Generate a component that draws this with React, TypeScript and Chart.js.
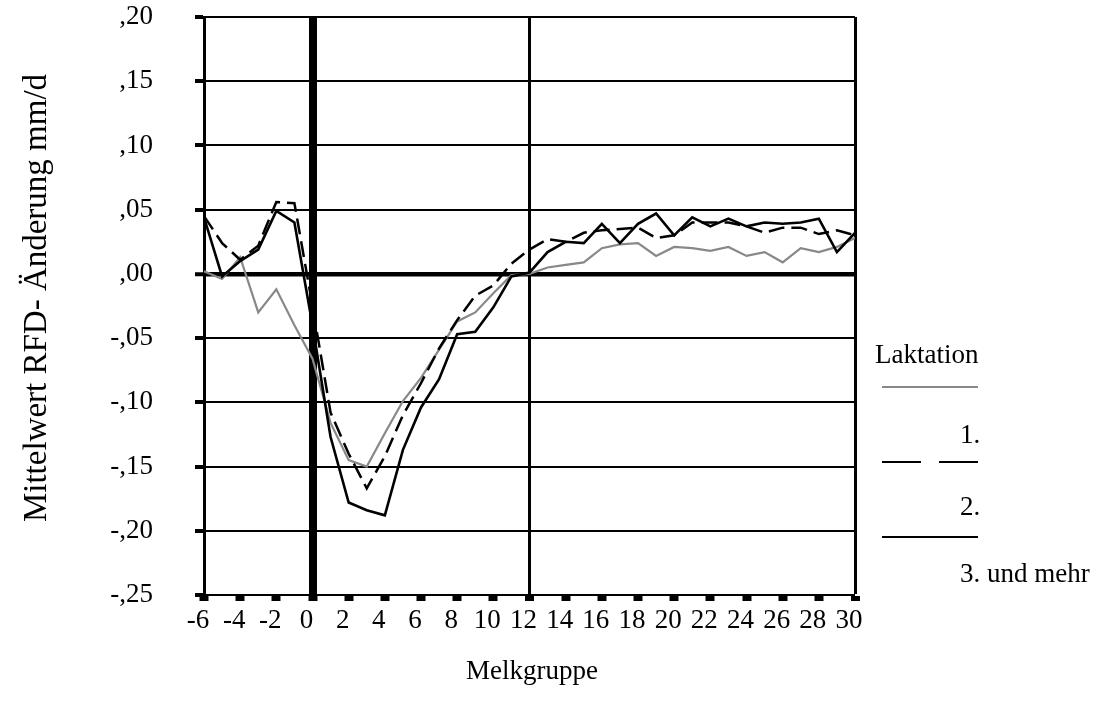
import { useEffect, useRef } from "react";
import { Chart, registerables } from "chart.js";

Chart.register(...registerables);

const FONT = '"Liberation Serif", "Times New Roman", serif';

// Melkgruppe (x categories)
const melkgruppe = [
  -6, -5, -4, -3, -2, -1, 0, 1, 2, 3, 4, 5, 6, 7, 8, 9, 10, 11, 12, 13, 14, 15, 16, 17, 18, 19, 20, 21, 22, 23, 24,
  25, 26, 27, 28, 29, 30,
];

// 1. Laktation (grey)
const laktation1 = [
  0.002, -0.004, 0.013, -0.03, -0.012, -0.04, -0.066,
  -0.116, -0.145, -0.15, -0.124, -0.099, -0.081, -0.059, -0.037, -0.03, -0.015, -0.001, 0.0,
  0.005, 0.007, 0.009, 0.02, 0.023, 0.024, 0.014, 0.021, 0.02, 0.018, 0.021, 0.014, 0.017, 0.009, 0.02, 0.017, 0.021, 0.028,
];

// 2. Laktation (dashed)
const laktation2 = [
  0.045, 0.024, 0.011, 0.022, 0.056, 0.055, -0.025,
  -0.108, -0.14, -0.167, -0.142, -0.11, -0.085, -0.058, -0.036, -0.017, -0.009, 0.008, 0.019,
  0.027, 0.025, 0.032, 0.034, 0.035, 0.036, 0.028, 0.03, 0.04, 0.04, 0.04, 0.037, 0.032, 0.036, 0.036, 0.031, 0.034, 0.03,
];

// 3. und mehr (solid black)
const laktation3 = [
  0.044, -0.002, 0.01, 0.019, 0.049, 0.04, -0.04,
  -0.127, -0.178, -0.184, -0.188, -0.137, -0.104, -0.082, -0.047, -0.045, -0.026, -0.002, 0.001,
  0.017, 0.025, 0.024, 0.039, 0.024, 0.039, 0.047, 0.03, 0.044, 0.037, 0.043, 0.037, 0.04, 0.039, 0.04, 0.043, 0.017, 0.032,
];

const yTickValues = [0.2, 0.15, 0.1, 0.05, 0, -0.05, -0.1, -0.15, -0.2, -0.25];
const yTickLabels = [",20", ",15", ",10", ",05", ",00", "-,05", "-,10", "-,15", "-,20", "-,25"];
const xTickValues = [-6, -4, -2, 0, 2, 4, 6, 8, 10, 12, 14, 16, 18, 20, 22, 24, 26, 28, 30];
const xTickLabels = ["-6", "-4", "-2", "0", "2", "4", "6", "8", "10", "12", "14", "16", "18", "20", "22", "24", "26", "28", "30"];
const referenceLines = [0, 12, 30];

const legendTitle = "Laktation";
const seriesNames = ["1.", "2.", "3. und mehr"];
const yTitle = "Mittelwert RFD- Änderung mm/d";
const xTitle = "Melkgruppe";

const GREY = "#888888";

function toPoints(values: number[]) {
  return melkgruppe.map((x, i) => ({ x, y: values[i] }));
}

const textPlugin = {
  id: "textPlugin",
  afterDraw(chart: any) {
    const ctx = chart.ctx as CanvasRenderingContext2D;
    ctx.save();
    ctx.fillStyle = "#000";
    // y title
    ctx.font = `33px ${FONT}`;
    ctx.textAlign = "center";
    ctx.textBaseline = "middle";
    ctx.save();
    ctx.translate(37, 298);
    ctx.rotate(-Math.PI / 2);
    ctx.fillText(yTitle, 0, 0);
    ctx.restore();
    // x title
    ctx.font = `27px ${FONT}`;
    ctx.fillText(xTitle, 532, 672);

    // legend
    ctx.textBaseline = "alphabetic";
    ctx.textAlign = "left";
    ctx.font = `27px ${FONT}`;
    ctx.fillText(legendTitle, 875, 363);
    ctx.lineWidth = 2;
    ctx.strokeStyle = GREY;
    ctx.beginPath();
    ctx.moveTo(882, 387);
    ctx.lineTo(978, 387);
    ctx.stroke();
    ctx.fillText(seriesNames[0], 960, 443);
    ctx.strokeStyle = "#000";
    ctx.beginPath();
    ctx.moveTo(882, 462);
    ctx.lineTo(921, 462);
    ctx.moveTo(939, 462);
    ctx.lineTo(978, 462);
    ctx.stroke();
    ctx.fillText(seriesNames[1], 960, 515);
    ctx.beginPath();
    ctx.moveTo(882, 537);
    ctx.lineTo(978, 537);
    ctx.stroke();
    ctx.fillText(seriesNames[2], 960, 582);
    ctx.restore();
  },
};

export default function App() {
  const canvasRef = useRef<HTMLCanvasElement | null>(null);

  useEffect(() => {
    const canvas = canvasRef.current;
    if (!canvas) return;
    const chart = new Chart(canvas, {
      type: "line",
      data: {
        datasets: [
          {
            label: seriesNames[0],
            data: toPoints(laktation1),
            borderColor: GREY,
            borderWidth: 2.2,
            pointRadius: 0,
            order: 3,
          },
          {
            label: seriesNames[1],
            data: toPoints(laktation2),
            borderColor: "#000",
            borderWidth: 2.5,
            borderDash: [16, 7],
            pointRadius: 0,
            order: 2,
          },
          {
            label: seriesNames[2],
            data: toPoints(laktation3),
            borderColor: "#000",
            borderWidth: 2.6,
            pointRadius: 0,
            order: 1,
          },
        ],
      },
      options: {
        responsive: false,
        animation: false,
        devicePixelRatio: 1,
        layout: { padding: { left: 0, top: 17, right: 246, bottom: 0 } },
        elements: { line: { tension: 0 }, point: { radius: 0 } },
        plugins: { legend: { display: false }, tooltip: { enabled: false } },
        scales: {
          x: {
            type: "linear",
            min: -6,
            max: 30,
            afterBuildTicks: (s: any) => {
              s.ticks = xTickValues.map((v) => ({ value: v }));
            },
            afterFit: (s: any) => {
              s.height = 125;
              s.paddingLeft = 0;
              s.paddingRight = 0;
            },
            ticks: {
              autoSkip: false,
              maxRotation: 0,
              minRotation: 0,
              padding: 4,
              labelOffset: -6,
              color: "#000",
              font: { family: FONT, size: 27 },
              callback: (value: any) => {
                const i = xTickValues.indexOf(Number(value));
                return i >= 0 ? xTickLabels[i] : "";
              },
            },
            grid: {
              display: true,
              drawOnChartArea: true,
              drawTicks: true,
              tickLength: 6,
              tickWidth: 9,
              tickColor: "#000",
              color: "#000",
              lineWidth: (c: any) => {
                const v = c.tick ? c.tick.value : null;
                if (v === 0) return 8;
                if (referenceLines.includes(v)) return 3;
                return 0;
              },
            },
            border: { display: true, color: "#000", width: 2 },
          },
          y: {
            type: "linear",
            min: -0.25,
            max: 0.2,
            afterBuildTicks: (s: any) => {
              s.ticks = yTickValues.map((v) => ({ value: v }));
            },
            afterFit: (s: any) => {
              s.width = 204;
              s.paddingTop = 0;
              s.paddingBottom = 0;
            },
            ticks: {
              padding: 42,
              color: "#000",
              font: { family: FONT, size: 27 },
              callback: (value: any) => {
                const i = yTickValues.findIndex((v) => Math.abs(v - Number(value)) < 1e-6);
                return i >= 0 ? yTickLabels[i] : "";
              },
            },
            grid: {
              display: true,
              drawOnChartArea: true,
              drawTicks: true,
              tickLength: 9,
              tickWidth: 4,
              tickColor: "#000",
              color: "#000",
              lineWidth: (c: any) => {
                const v = c.tick ? c.tick.value : 1;
                return Math.abs(v) < 1e-9 ? 4.5 : 2;
              },
            },
            border: { display: true, color: "#000", width: 3 },
          },
        },
      },
      plugins: [textPlugin],
    });
    return () => chart.destroy();
  }, []);

  return (
    <div style={{ position: "absolute", left: 0, top: 0, width: 1101, height: 720, background: "#fff" }}>
      <canvas ref={canvasRef} width={1101} height={720} style={{ display: "block" }} />
    </div>
  );
}
